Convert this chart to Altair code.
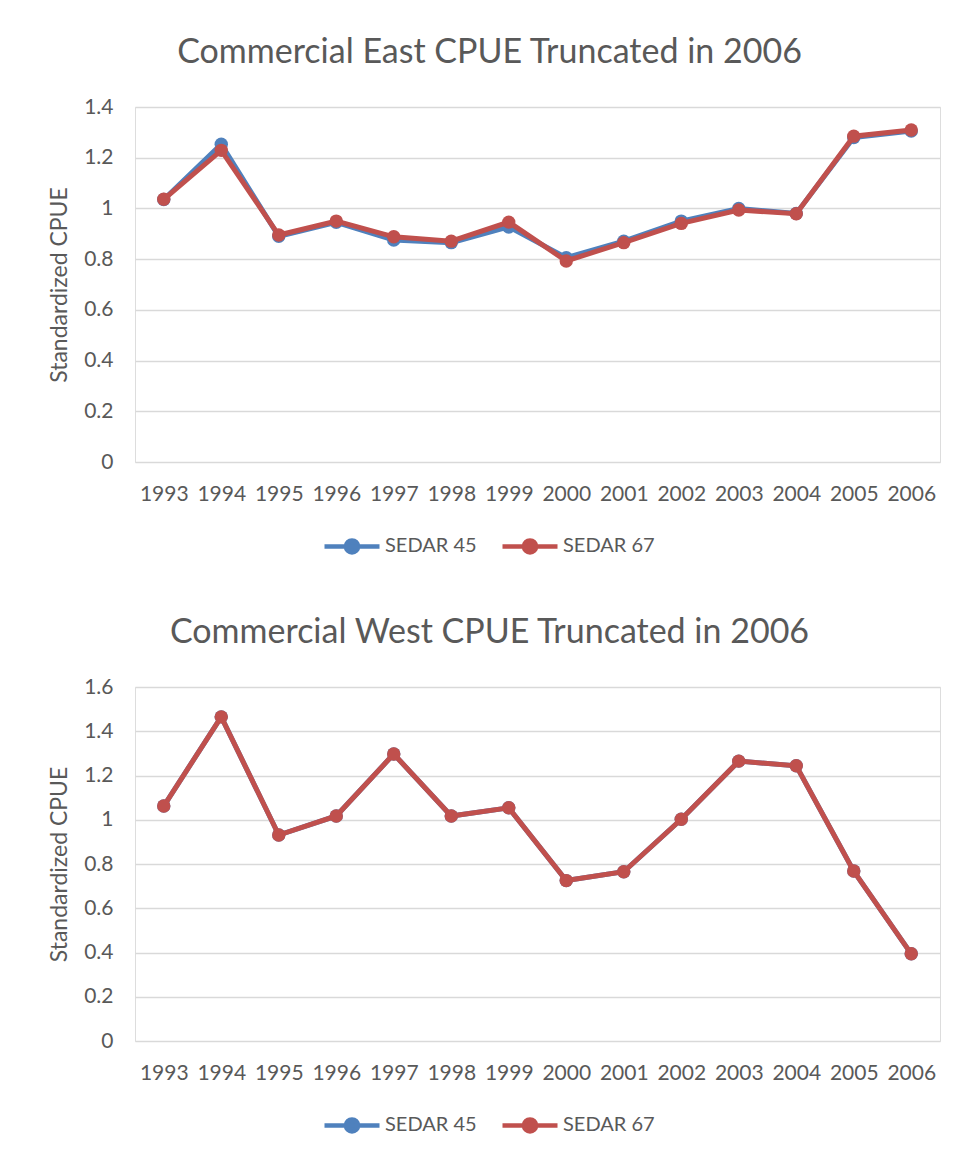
import altair as alt
import pandas as pd

years = [str(y) for y in range(1993, 2007)]
series = ["SEDAR 45", "SEDAR 67"]

east_s45 = [1.035, 1.253, 0.890, 0.945, 0.875, 0.865, 0.927, 0.806, 0.871, 0.950, 1.000, 0.980, 1.280, 1.305]
east_s67 = [1.036, 1.229, 0.895, 0.950, 0.888, 0.871, 0.946, 0.793, 0.865, 0.941, 0.994, 0.979, 1.285, 1.309]

west_s45 = [1.062, 1.465, 0.931, 1.017, 1.297, 1.017, 1.054, 0.725, 0.765, 1.002, 1.265, 1.244, 0.768, 0.394]
west_s67 = [1.062, 1.465, 0.931, 1.017, 1.297, 1.017, 1.054, 0.725, 0.765, 1.002, 1.265, 1.244, 0.768, 0.394]

east_ticks = [0, 0.2, 0.4, 0.6, 0.8, 1, 1.2, 1.4]
west_ticks = [0, 0.2, 0.4, 0.6, 0.8, 1, 1.2, 1.4, 1.6]

colors = ["#4F81BD", "#C0504D"]
TXT = "#595959"
FONT = "Lato"
LEG_SYMBOL = "M-1,0L1,0M-0.22,0A0.22,0.22 0 1,0 0.22,0A0.22,0.22 0 1,0 -0.22,0"


def make_df(a, b):
    rows = []
    for name, vals in zip(series, [a, b]):
        for y, v in zip(years, vals):
            rows.append({"Year": y, "Series": name, "CPUE": v})
    return pd.DataFrame(rows)


def panel(df, title, ticks, ymax, height):
    x = alt.X("Year:N", sort=years, title=None,
              scale=alt.Scale(type="point", padding=0.5),
              axis=alt.Axis(labelAngle=0, domain=False, ticks=False, labelPadding=21,
                            labelFontSize=21, labelColor=TXT, labelFont=FONT, grid=False))
    y = alt.Y("CPUE:Q", title="Standardized CPUE",
              scale=alt.Scale(domain=[0, ymax], nice=False),
              axis=alt.Axis(values=ticks, format="~g", domain=False, ticks=False,
                            labelPadding=22, labelFontSize=21, labelColor=TXT, labelFont=FONT,
                            titleFontSize=23, titleColor=TXT, titleFont=FONT,
                            titleFontWeight="normal", titlePadding=12,
                            grid=True, gridColor="#D9D9D9", gridWidth=1.5))
    color = alt.Color("Series:N", scale=alt.Scale(domain=series, range=colors),
                      legend=alt.Legend(title=None, orient="none", direction="horizontal",
                                        legendX=187, legendY=height + 54,
                                        symbolType=LEG_SYMBOL, symbolSize=3025,
                                        symbolStrokeWidth=4.5, labelFontSize=20,
                                        labelColor=TXT, labelFont=FONT, labelOffset=3,
                                        columnPadding=16))
    layers = []
    for s in series:
        sub = df[df["Series"] == s]
        base = alt.Chart(sub).encode(x=x, y=y, color=color)
        layers.append(base.mark_line(strokeWidth=5))
        layers.append(base.mark_point(filled=True, size=180, opacity=1))
    return alt.layer(*layers).properties(
        width=805, height=height,
        title=alt.TitleParams(title, fontSize=34, font=FONT, color=TXT,
                              fontWeight="normal", anchor="middle", dx=-48, offset=26),
    )


top = panel(make_df(east_s45, east_s67), "Commercial East CPUE Truncated in 2006", east_ticks, 1.4, 355)
bottom = panel(make_df(west_s45, west_s67), "Commercial West CPUE Truncated in 2006", west_ticks, 1.6, 354)

chart = alt.vconcat(top, bottom, spacing=52).resolve_legend(color="independent").properties(
    padding={"left": 40, "top": 27, "right": 0, "bottom": 0}
).configure_view(stroke=None).configure(background="white")

chart.save("out.html", embed_options={"renderer": "svg", "actions": False})
